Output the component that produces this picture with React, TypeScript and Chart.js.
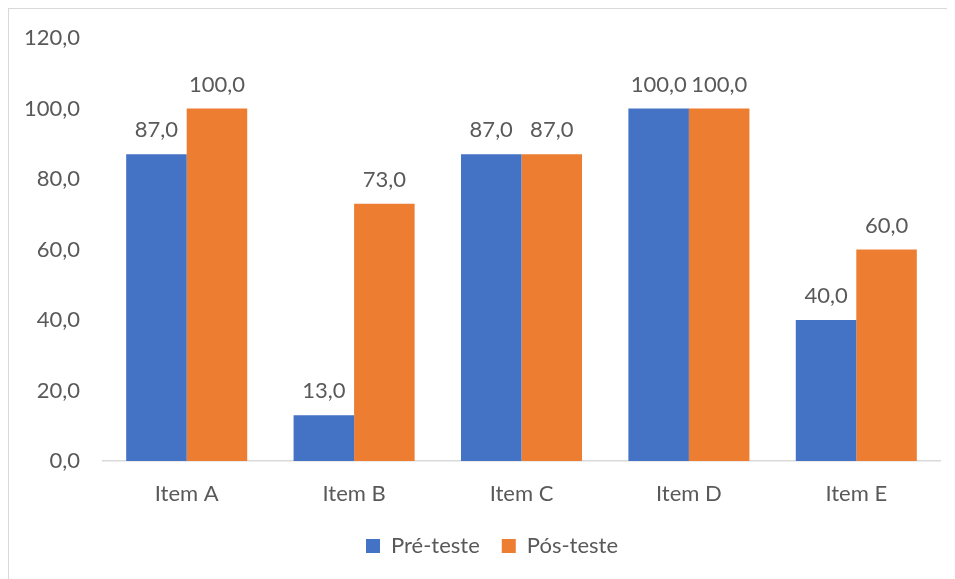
import React, { useEffect, useRef } from "react";
import { Chart, registerables } from "chart.js";

Chart.register(...registerables);

const categories = ["Item A", "Item B", "Item C", "Item D", "Item E"];
const preTeste = [87, 13, 87, 100, 40];
const posTeste = [100, 73, 87, 100, 60];
const seriesNames = ["Pré-teste", "Pós-teste"];
const yTicks = [0, 20, 40, 60, 80, 100, 120];

const FONT = "Lato, 'Noto Sans', sans-serif";
const TEXT = "#595959";
const SIZE = 22;
const LEGEND_CENTER = 483;

const fmt = (v: number) => v.toFixed(1).replace(".", ",");

// Value labels above each bar
const valueLabels = {
  id: "valueLabels",
  afterDatasetsDraw(chart: any) {
    const ctx = chart.ctx;
    ctx.save();
    ctx.font = `${SIZE}px ${FONT}`;
    ctx.fillStyle = TEXT;
    ctx.textAlign = "center";
    ctx.textBaseline = "alphabetic";
    chart.data.datasets.forEach((ds: any, i: number) => {
      const meta = chart.getDatasetMeta(i);
      meta.data.forEach((bar: any, j: number) => {
        ctx.fillText(fmt(ds.data[j]), bar.x, bar.y - 17);
      });
    });
    ctx.restore();
  },
};

// Center the legend on the whole chart frame rather than the padded box
const legendCenter = {
  id: "legendCenter",
  afterLayout(chart: any) {
    const lg = chart.legend;
    if (!lg) return;
    const w = lg.right - lg.left;
    lg.left = LEGEND_CENTER - w / 2;
    lg.right = lg.left + w;
  },
};

export default function App() {
  const ref = useRef<HTMLCanvasElement>(null);

  useEffect(() => {
    if (!ref.current) return;
    const chart = new Chart(ref.current, {
      type: "bar",
      data: {
        labels: categories,
        datasets: [
          {
            label: seriesNames[0],
            data: preTeste,
            backgroundColor: "#4472C4",
            borderWidth: 0,
          },
          {
            label: seriesNames[1],
            data: posTeste,
            backgroundColor: "#ED7D31",
            borderWidth: 0,
          },
        ],
      },
      options: {
        responsive: false,
        animation: false,
        layout: { padding: { top: 29, right: 15, left: 0, bottom: 12 } },
        datasets: {
          bar: { categoryPercentage: 0.723, barPercentage: 1.0 },
        },
        scales: {
          x: {
            grid: { display: false },
            border: { display: true, color: "#d9d9d9", width: 1.5 },
            ticks: {
              color: TEXT,
              font: { family: FONT, size: SIZE },
              padding: 12,
            },
            afterFit(scale: any) {
              scale.height = 52;
            },
          },
          y: {
            min: 0,
            max: 120,
            grid: { display: false, drawTicks: true, tickLength: 18 },
            border: { display: false },
            afterBuildTicks(scale: any) {
              scale.ticks = yTicks.map((v) => ({ value: v }));
            },
            ticks: {
              color: TEXT,
              font: { family: FONT, size: SIZE },
              padding: 5,
              callback: (v: any) => fmt(Number(v)),
            },
            afterFit(scale: any) {
              scale.width = 94;
            },
          },
        },
        plugins: {
          legend: {
            position: "bottom",
            labels: {
              color: TEXT,
              font: { family: FONT, size: SIZE },
              boxWidth: 14,
              boxHeight: 14,
              padding: 22,
            },
          },
          tooltip: { enabled: false },
        },
      },
      plugins: [valueLabels, legendCenter],
    });
    return () => chart.destroy();
  }, []);

  return (
    <div
      style={{
        width: 947,
        height: 571,
        boxSizing: "border-box",
        borderTop: "1px solid #d9d9d9",
        borderLeft: "1px solid #d9d9d9",
        background: "#fff",
      }}
    >
      <canvas ref={ref} width={946} height={570} style={{ display: "block" }} />
    </div>
  );
}
